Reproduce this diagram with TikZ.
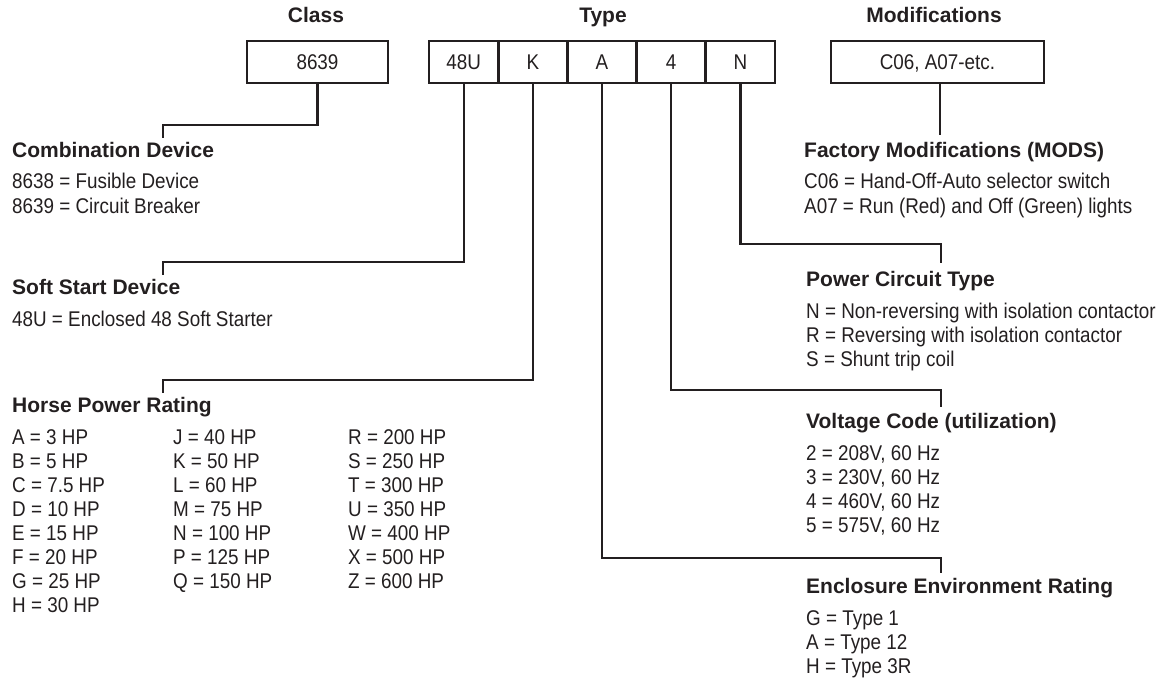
\documentclass[tikz,border=0pt]{standalone}
\usepackage{fontspec}
\newfontfamily\hfont{Liberation Sans}
\newfontfamily\cfont{Liberation Sans}[FakeStretch=0.885]
\definecolor{ink}{HTML}{231F20}
\begin{document}
\begin{tikzpicture}[x=1pt,y=-1pt,
  title/.style={font=\hfont\bfseries\fontsize{21}{24}\selectfont, text=ink, inner sep=0pt, anchor=base},
  head/.style={title, anchor=base west},
  body/.style={font=\cfont\fontsize{21.3}{24}\selectfont, text=ink, inner sep=0pt, anchor=base west},
  cell/.style={draw=ink, line width=2.8pt, minimum height=42pt, inner sep=0pt,
    text height=15pt, text depth=0pt, font=\cfont\fontsize{21.3}{24}\selectfont, text=ink},
  link/.style={draw=ink, line width=2.2pt, line join=miter}]
\useasboundingbox (0,0) rectangle (1164,679);

% titles
\node[title] (tclass) at (316,23) {Class};
\node[title] (ttype) at (603,23) {Type};
\node[title] (tmods) at (934,23) {Modifications};

% boxes
\node[cell, minimum width=141pt] (cls) at (317.5,62) {8639};
\node[cell, minimum width=69.2pt] (t1) at (463.6,62) {48U};
\node[cell, minimum width=69.2pt] (t2) at (532.8,62) {K};
\node[cell, minimum width=69.2pt] (t3) at (602.0,62) {A};
\node[cell, minimum width=69.2pt] (t4) at (671.2,62) {4};
\node[cell, minimum width=69.2pt] (t5) at (740.4,62) {N};
\node[cell, minimum width=213pt] (mods) at (937.5,62) {C06, A07-etc.};

% headings
\node[head] (comb) at (12,158) {Combination Device};
\node[head] (soft) at (12,294) {Soft Start Device};
\node[head] (horse) at (12,412) {Horse Power Rating};
\node[head] (fact) at (804,158) {Factory Modifications (MODS)};
\node[head] (pct) at (806,286) {Power Circuit Type};
\node[head] (volt) at (806,428) {Voltage Code (utilization)};
\node[head] (encl) at (806,593) {Enclosure Environment Rating};

% body text
\foreach \t [count=\i] in {8638 = Fusible Device, 8639 = Circuit Breaker}
  \node[body] (cb\i) at (12,{189+24*(\i-1)}) {\t};
\node[body] (sb1) at (12,326) {48U = Enclosed 48 Soft Starter};
\foreach \t [count=\i] in {A = 3 HP, B = 5 HP, C = 7.5 HP, D = 10 HP, E = 15 HP, F = 20 HP, G = 25 HP, H = 30 HP}
  \node[body] (ha\i) at (12,{444+24*(\i-1)}) {\t};
\foreach \t [count=\i] in {J = 40 HP, K = 50 HP, L = 60 HP, M = 75 HP, N = 100 HP, P = 125 HP, Q = 150 HP}
  \node[body] (hb\i) at (173,{444+24*(\i-1)}) {\t};
\foreach \t [count=\i] in {R = 200 HP, S = 250 HP, T = 300 HP, U = 350 HP, W = 400 HP, X = 500 HP, Z = 600 HP}
  \node[body] (hc\i) at (348,{444+24*(\i-1)}) {\t};
\foreach \t [count=\i] in {C06 = Hand-Off-Auto selector switch, A07 = Run (Red) and Off (Green) lights}
  \node[body] (fb\i) at (804,{189+24*(\i-1)}) {\t};
\foreach \t [count=\i] in {N = Non-reversing with isolation contactor, R = Reversing with isolation contactor, S = Shunt trip coil}
  \node[body] (pb\i) at (806,{318+24*(\i-1)}) {\t};
\foreach \t [count=\i] in {{2 = 208V, 60 Hz}, {3 = 230V, 60 Hz}, {4 = 460V, 60 Hz}, {5 = 575V, 60 Hz}}
  \node[body] (vb\i) at (806,{460+24*(\i-1)}) {\t};
\foreach \t [count=\i] in {G = Type 1, A = Type 12, H = Type 3R}
  \node[body] (eb\i) at (806,{625+24*(\i-1)}) {\t};

% connector coordinates
\coordinate (jc) at (163,125);  \coordinate (ec) at (163,138);
\coordinate (j1) at (163,262);  \coordinate (e1) at (163,275);
\coordinate (j2) at (163,380);  \coordinate (e2) at (163,393);
\coordinate (j5) at (941,244);  \coordinate (e5) at (941,263);
\coordinate (j4) at (941,390);  \coordinate (e4) at (941,407);
\coordinate (j3) at (941,558);  \coordinate (e3) at (941,573);
\coordinate (em) at (940,135);

% connectors
\draw[link] (cls.south) |- (jc) -- (ec);
\draw[link] (t1.south) |- (j1) -- (e1);
\draw[link] (t2.south) |- (j2) -- (e2);
\draw[link] (t3.south) |- (j3) -- (e3);
\draw[link] (t4.south) |- (j4) -- (e4);
\draw[link] (t5.south) |- (j5) -- (e5);
\draw[link] (mods.south -| em) -- (em);
\end{tikzpicture}
\end{document}
